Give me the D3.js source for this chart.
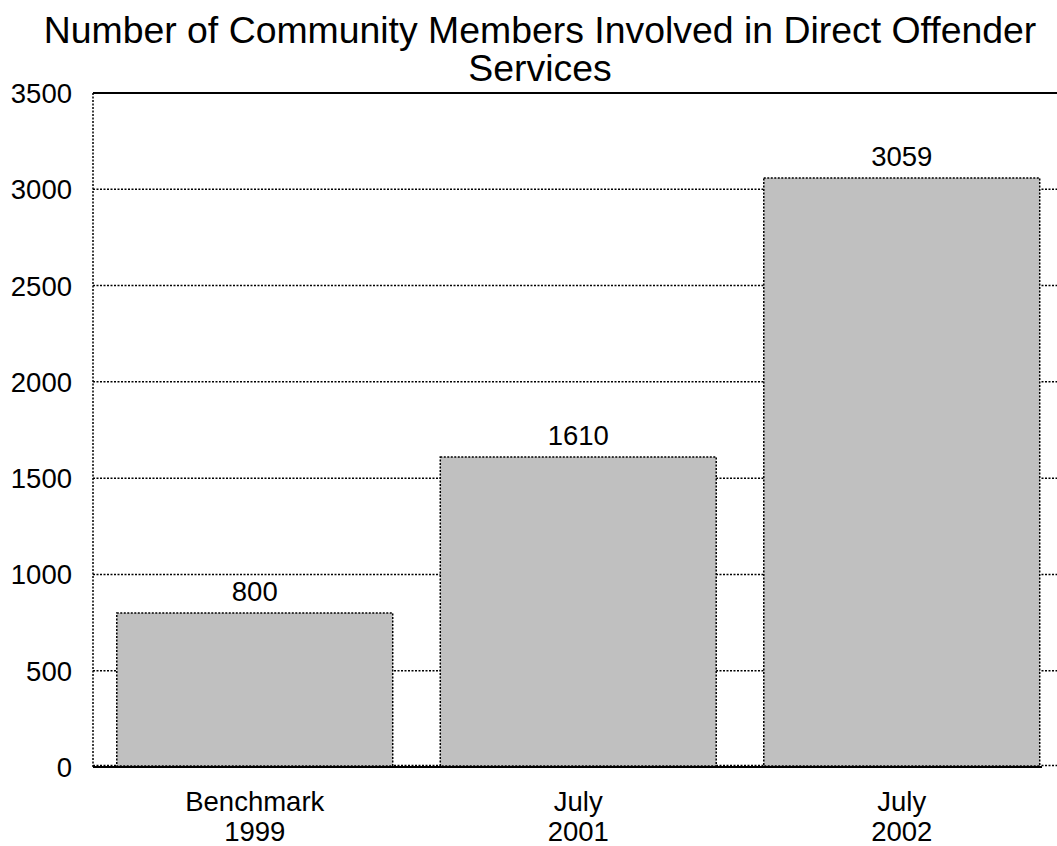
<!DOCTYPE html>
<html><head><meta charset="utf-8">
<script src="https://cdn.jsdelivr.net/npm/d3@7"></script>
<style>body{margin:0;background:#fff}svg{display:block}</style>
</head><body>
<svg id="c" width="1057" height="846"></svg>
<script>
const categories = [["Benchmark","1999"],["July","2001"],["July","2002"]];
const values = [800, 1610, 3059];
const yTicks = [0,500,1000,1500,2000,2500,3000,3500];
const titleLines = ["Number of Community Members Involved in Direct Offender","Services"];

(function(){
const svg = d3.select("#c");
const font = "Liberation Sans, Arial, sans-serif";
const mL = 93, mR = 1063.5, mT = 93, mB = 767;

const x = d3.scaleBand().domain(d3.range(categories.length)).range([mL, mR]).paddingInner(0.147).paddingOuter(0.0735);
const y = d3.scaleLinear().domain([0, 3500]).range([mB, mT]);

// gridlines
svg.append("g").selectAll("line").data(yTicks.filter(t => t < 3500)).join("line")
  .attr("x1", mL).attr("x2", 1057)
  .attr("y1", d => y(d) - (d === 0 ? 1.5 : 0)).attr("y2", d => y(d) - (d === 0 ? 1.5 : 0))
  .attr("stroke", "#000").attr("stroke-width", 1.5).attr("stroke-dasharray", "2,1.5");

// bars
svg.append("g").selectAll("rect").data(values).join("rect")
  .attr("x", (d, i) => x(i)).attr("width", x.bandwidth())
  .attr("y", d => y(d)).attr("height", d => mB - y(d) - 1)
  .attr("fill", "#c0c0c0").attr("stroke", "#000").attr("stroke-width", 1.5)
  .attr("stroke-dasharray", "2,1.5");

// top border
svg.append("line").attr("x1", mL).attr("x2", 1057).attr("y1", mT).attr("y2", mT)
  .attr("stroke", "#000").attr("stroke-width", 2);
// left axis dotted
svg.append("line").attr("x1", mL).attr("x2", mL).attr("y1", mT).attr("y2", mB)
  .attr("stroke", "#000").attr("stroke-width", 1.5).attr("stroke-dasharray", "2,1.5");
// bottom axis
svg.append("line").attr("x1", mL).attr("x2", 1042).attr("y1", mB).attr("y2", mB)
  .attr("stroke", "#000").attr("stroke-width", 2);

// y tick labels
svg.append("g").selectAll("text").data(yTicks).join("text")
  .attr("x", 72).attr("y", d => y(d) + 10)
  .attr("text-anchor", "end").attr("font-family", font).attr("font-size", 27.5)
  .text(d => d);

// value labels
svg.append("g").selectAll("text").data(values).join("text")
  .attr("x", (d, i) => x(i) + x.bandwidth() / 2).attr("y", d => y(d) - 12)
  .attr("text-anchor", "middle").attr("font-family", font).attr("font-size", 27.5)
  .text(d => d);

// category labels
const cl = svg.append("g").selectAll("text").data(categories).join("text")
  .attr("text-anchor", "middle").attr("font-family", font).attr("font-size", 27.5);
cl.each(function(d, i) {
  const t = d3.select(this);
  d.forEach((line, j) => {
    t.append("tspan").attr("x", x(i) + x.bandwidth() / 2).attr("y", 811 + j * 30).text(line);
  });
});

// title
svg.append("g").selectAll("text").data(titleLines).join("text")
  .attr("x", 540).attr("y", (d, i) => 43 + i * 38)
  .attr("text-anchor", "middle").attr("font-family", font).attr("font-size", 37.4)
  .text(d => d);
})();
</script>
</body></html>
